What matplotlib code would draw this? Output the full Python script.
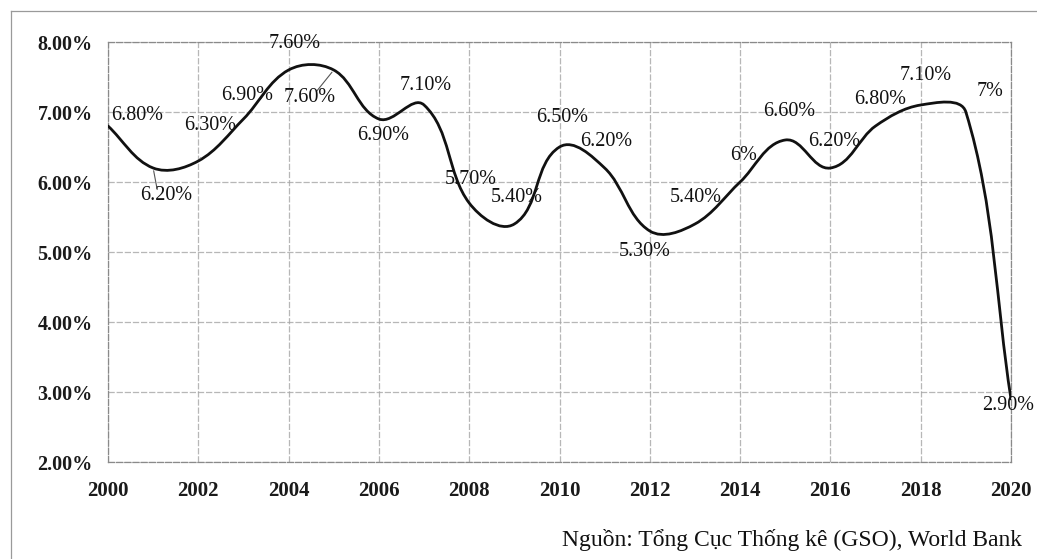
import numpy as np
import matplotlib.pyplot as plt
from matplotlib.path import Path
from matplotlib.patches import PathPatch
from matplotlib.lines import Line2D

# Tăng trưởng GDP Việt Nam 2000-2020 (%)
nam = list(range(2000, 2021))
tang_truong = [6.8, 6.2, 6.3, 6.9, 7.6, 7.6, 6.9, 7.1, 5.7, 5.4, 6.5,
               6.2, 5.3, 5.4, 6.0, 6.6, 6.2, 6.8, 7.1, 7.0, 2.9]
nhan = ['6.80%', '6.20%', '6.30%', '6.90%', '7.60%', '7.60%', '6.90%', '7.10%',
        '5.70%', '5.40%', '6.50%', '6.20%', '5.30%', '5.40%', '6%', '6.60%',
        '6.20%', '6.80%', '7.10%', '7%', '2.90%']

# vị trí nhãn (pixel) so với điểm dữ liệu
lech_nhan = [(29, 11), (13, -27), (12, 35), (4, 24), (6, 27), (-24, -28), (4, -16),
             (2, 19), (2, 23), (2, 27), (3, 29), (2, 27), (-5, -21), (1, 27),
             (3, 26), (4, 28), (4, 27), (5, 26), (5, 29), (24, 20), (-3, -6)]
co_gach = {1: (0.35, 0.9), 2: (0.35, 0.15), 5: (0.8, 0.85)}

plt.rcParams['font.family'] = ['Liberation Serif', 'DejaVu Serif']

fig = plt.figure(figsize=(10.37, 5.59), dpi=100)
ax = fig.add_axes([108 / 1037, 97 / 559, 903 / 1037, 420 / 559])
ax.set_xlim(2000, 2020)
ax.set_ylim(2, 8)


def duong_tron(ax, xs, ys, k=0.34):
    # đường cong trơn: tiếp tuyến chuẩn hoá, độ dài tay nắm theo từng đoạn (tính trên pixel)
    P = ax.transData.transform(np.column_stack([xs, ys]))
    n = len(P)
    tt = []
    for i in range(n):
        d = P[min(i + 1, n - 1)] - P[max(i - 1, 0)]
        tt.append(d / np.hypot(*d))
    verts = [P[0]]
    codes = [Path.MOVETO]
    for i in range(n - 1):
        L = np.hypot(*(P[i + 1] - P[i]))
        verts += [P[i] + tt[i] * L * k, P[i + 1] - tt[i + 1] * L * k, P[i + 1]]
        codes += [Path.CURVE4] * 3
    verts = ax.transData.inverted().transform(np.array(verts))
    return Path(verts, codes)


ax.add_patch(PathPatch(duong_tron(ax, nam, tang_truong), facecolor='none',
                       edgecolor='#111111', lw=2.0, capstyle='round',
                       joinstyle='round', zorder=3))

for i, (nx, v) in enumerate(zip(nam, tang_truong)):
    dx, dy = lech_nhan[i]
    ax.annotate(nhan[i], (nx, v), xytext=(dx, dy), textcoords='offset pixels',
                ha='center', va='center', fontsize=14.5, color='#111111', zorder=4)

# vài đường gạch nối nhãn với đường cong
for i, (fx, fy) in co_gach.items():
    dx, dy = lech_nhan[i]
    ax.annotate('', (nam[i], tang_truong[i]), xytext=(dx * fx, dy * fy),
                textcoords='offset pixels',
                arrowprops=dict(arrowstyle='-', color='#555555', lw=0.8))

ax.set_xticks(range(2000, 2021, 2))
ax.set_yticks(range(2, 9))
ax.set_yticklabels([f'{t:.2f}%' for t in range(2, 9)])
ax.tick_params(length=0, labelsize=14.5, colors='#1a1a1a')
ax.tick_params(axis='x', pad=14, labelsize=15)
ax.tick_params(axis='y', pad=11)
for lb in ax.get_xticklabels() + ax.get_yticklabels():
    lb.set_fontweight('bold')
ax.grid(True, color='#a5a5a5', lw=0.9, ls=(0, (5, 1.5)), alpha=0.8)
for s in ax.spines.values():
    s.set_color('#8a8a8a')
    s.set_linewidth(0.9)
    s.set_linestyle((0, (5, 1.5)))

# khung ngoài
fig.add_artist(Line2D([11 / 1037, 11 / 1037], [0, 1 - 11 / 559],
                      transform=fig.transFigure, color='#9a9a9a', lw=0.9))
fig.add_artist(Line2D([11 / 1037, 1], [1 - 11 / 559, 1 - 11 / 559],
                      transform=fig.transFigure, color='#9a9a9a', lw=0.9))

fig.text(1022 / 1037, 1 - 540 / 559, 'Nguồn: Tổng Cục Thống kê (GSO), World Bank',
         ha='right', va='center', fontsize=17, color='#111111')

fig.savefig('out.png', dpi=100)
